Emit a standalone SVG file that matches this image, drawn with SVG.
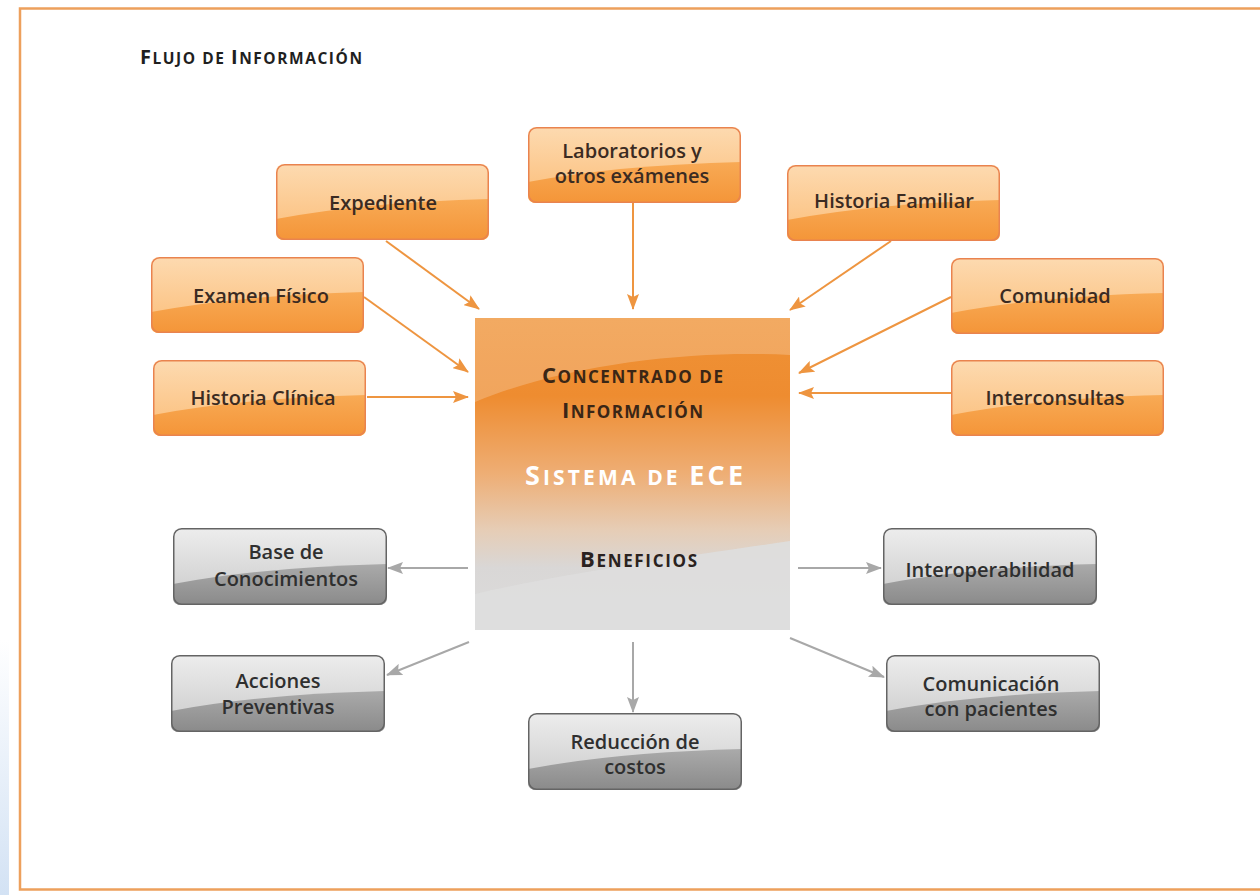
<svg xmlns="http://www.w3.org/2000/svg" xmlns:xlink="http://www.w3.org/1999/xlink" width="1260" height="895" viewBox="0 0 1260 895">
<style>
.lbl{font-family:"Open Sans","Liberation Sans",sans-serif;font-size:20px;font-weight:600;text-anchor:middle}
.lo{fill:#3b2b22}
.lg{fill:#2f2f2f}
.sc{font-family:"Open Sans","Liberation Sans",sans-serif;font-weight:700}
.co{stroke:#EE9540;stroke-width:2;fill:none}
.cg{stroke:#A8A8A8;stroke-width:2;fill:none}
</style>
<defs>
<linearGradient id="oTop" x1="0" y1="0" x2="0" y2="1">
<stop offset="0" stop-color="#FDDAB0"/><stop offset="1" stop-color="#FBBD78"/>
</linearGradient>
<linearGradient id="oBot" x1="0" y1="0" x2="0" y2="1">
<stop offset="0" stop-color="#F8AA55"/><stop offset="1" stop-color="#F49538"/>
</linearGradient>
<linearGradient id="gTop" x1="0" y1="0" x2="0" y2="1">
<stop offset="0" stop-color="#EDEDED"/><stop offset="1" stop-color="#C9C9C9"/>
</linearGradient>
<linearGradient id="gBot" x1="0" y1="0" x2="0" y2="1">
<stop offset="0" stop-color="#AAAAAA"/><stop offset="1" stop-color="#8A8A8A"/>
</linearGradient>
<linearGradient id="cBase" gradientUnits="userSpaceOnUse" x1="0" y1="318" x2="0" y2="630">
<stop offset="0" stop-color="#EF9236"/>
<stop offset="0.25" stop-color="#EE8C30"/>
<stop offset="0.5" stop-color="#EEAE75"/>
<stop offset="0.68" stop-color="#E6CDB6"/>
<stop offset="0.8" stop-color="#D9D7D6"/>
<stop offset="1" stop-color="#DCDCDC"/>
</linearGradient>
<linearGradient id="blueEdge" x1="0" y1="0" x2="0" y2="1">
<stop offset="0" stop-color="#FFFFFF"/><stop offset="1" stop-color="#D3E2F4"/>
</linearGradient>
<marker id="ao" viewBox="0 0 16 12" refX="15" refY="6" markerWidth="16" markerHeight="12" markerUnits="userSpaceOnUse" orient="auto">
<path d="M0,0 L16,6 L0,12 L3,6 Z" fill="#EE9540"/>
</marker>
<marker id="ag" viewBox="0 0 16 12" refX="15" refY="6" markerWidth="16" markerHeight="12" markerUnits="userSpaceOnUse" orient="auto">
<path d="M0,0 L16,6 L0,12 L3,6 Z" fill="#A8A8A8"/>
</marker>
<g id="obox">
<rect x="0" y="0" width="213" height="76" rx="8" fill="url(#oTop)"/>
<path d="M0,55 Q90,38 213,35 V68 Q213,76 205,76 H8 Q0,76 0,68 Z" fill="url(#oBot)"/>
<rect x="0.75" y="0.75" width="211.5" height="74.5" rx="8" fill="none" stroke="#E9834F" stroke-width="1.5"/>
</g>
<g id="gbox">
<rect x="0" y="0" width="214" height="77" rx="8" fill="url(#gTop)"/>
<path d="M0,56 Q90,39 214,36 V69 Q214,77 206,77 H8 Q0,77 0,69 Z" fill="url(#gBot)"/>
<rect x="0.75" y="0.75" width="212.5" height="75.5" rx="8" fill="none" stroke="#646464" stroke-width="1.5"/>
</g>
</defs>

<rect x="0" y="0" width="1260" height="895" fill="#FFFFFF"/>
<rect x="0" y="640" width="9" height="255" fill="url(#blueEdge)"/>
<rect x="20" y="8.5" width="1260" height="881" fill="none" stroke="#EDA05C" stroke-width="2.5"/>

<text id="title" class="sc" x="140" y="64" fill="#1f1f1f" textLength="222" lengthAdjust="spacing"><tspan font-size="20">F</tspan><tspan font-size="15.5">LUJO DE </tspan><tspan font-size="20">I</tspan><tspan font-size="15.5">NFORMACIÓN</tspan></text>

<g id="connectors">
<line class="co" x1="386" y1="241" x2="479" y2="309" marker-end="url(#ao)"/>
<line class="co" x1="633" y1="203" x2="633" y2="309" marker-end="url(#ao)"/>
<line class="co" x1="891" y1="241" x2="790" y2="310" marker-end="url(#ao)"/>
<line class="co" x1="364" y1="297" x2="468" y2="372" marker-end="url(#ao)"/>
<line class="co" x1="367" y1="397" x2="468" y2="397" marker-end="url(#ao)"/>
<line class="co" x1="951" y1="297" x2="799" y2="373" marker-end="url(#ao)"/>
<line class="co" x1="951" y1="393" x2="799" y2="393" marker-end="url(#ao)"/>
<line class="cg" x1="468" y1="568" x2="388" y2="568" marker-end="url(#ag)"/>
<line class="cg" x1="469" y1="642" x2="387" y2="675" marker-end="url(#ag)"/>
<line class="cg" x1="633" y1="642" x2="633" y2="712" marker-end="url(#ag)"/>
<line class="cg" x1="798" y1="568" x2="881" y2="568" marker-end="url(#ag)"/>
<line class="cg" x1="790" y1="638" x2="884" y2="677" marker-end="url(#ag)"/>
</g>

<g id="central">
<rect x="475" y="318" width="315" height="312" fill="url(#cBase)"/>
<path d="M475,318 H790 V355 C700,350 570,362 475,402 Z" fill="#FFFFFF" fill-opacity="0.22"/>
<path d="M475,594 C560,574 690,556 790,541 V630 H475 Z" fill="#DEDEDE" fill-opacity="0.9"/>
<text class="sc" x="542" y="383" fill="#3a2616" textLength="181" lengthAdjust="spacing"><tspan font-size="22">C</tspan><tspan font-size="17">ONCENTRADO DE</tspan></text>
<text class="sc" x="562" y="418" fill="#3a2616" textLength="141" lengthAdjust="spacing"><tspan font-size="22">I</tspan><tspan font-size="17">NFORMACIÓN</tspan></text>
<text class="sc" x="525" y="485" fill="#FFFFFF" textLength="218" lengthAdjust="spacing"><tspan font-size="27">S</tspan><tspan font-size="21">ISTEMA DE </tspan><tspan font-size="27">ECE</tspan></text>
<text class="sc" x="580" y="567" fill="#2a2220" textLength="117" lengthAdjust="spacing"><tspan font-size="22">B</tspan><tspan font-size="17">ENEFICIOS</tspan></text>
</g>

<g id="expediente" transform="translate(276,164)"><use xlink:href="#obox"/><text class="lbl lo" x="107" y="46">Expediente</text></g>
<g id="laboratorios" transform="translate(528,127)"><use xlink:href="#obox"/><text class="lbl lo" x="104" y="31">Laboratorios y</text><text class="lbl lo" x="104" y="56">otros exámenes</text></g>
<g id="historia-familiar" transform="translate(787,165)"><use xlink:href="#obox"/><text class="lbl lo" x="107" y="43">Historia Familiar</text></g>
<g id="examen-fisico" transform="translate(151,257)"><use xlink:href="#obox"/><text class="lbl lo" x="110" y="46">Examen Físico</text></g>
<g id="comunidad" transform="translate(951,258)"><use xlink:href="#obox"/><text class="lbl lo" x="104" y="45">Comunidad</text></g>
<g id="historia-clinica" transform="translate(153,360)"><use xlink:href="#obox"/><text class="lbl lo" x="110" y="45">Historia Clínica</text></g>
<g id="interconsultas" transform="translate(951,360)"><use xlink:href="#obox"/><text class="lbl lo" x="104" y="45">Interconsultas</text></g>

<g id="base-conocimientos" transform="translate(173,528)"><use xlink:href="#gbox"/><text class="lbl lg" x="113" y="31">Base de</text><text class="lbl lg" x="113" y="58">Conocimientos</text></g>
<g id="acciones-preventivas" transform="translate(171,655)"><use xlink:href="#gbox"/><text class="lbl lg" x="107" y="33">Acciones</text><text class="lbl lg" x="107" y="59">Preventivas</text></g>
<g id="reduccion-costos" transform="translate(528,713)"><use xlink:href="#gbox"/><text class="lbl lg" x="107" y="36">Reducción de</text><text class="lbl lg" x="107" y="61">costos</text></g>
<g id="interoperabilidad" transform="translate(883,528)"><use xlink:href="#gbox"/><text class="lbl lg" x="107" y="49">Interoperabilidad</text></g>
<g id="comunicacion-pacientes" transform="translate(886,655)"><use xlink:href="#gbox"/><text class="lbl lg" x="105" y="36">Comunicación</text><text class="lbl lg" x="105" y="61">con pacientes</text></g>
</svg>
